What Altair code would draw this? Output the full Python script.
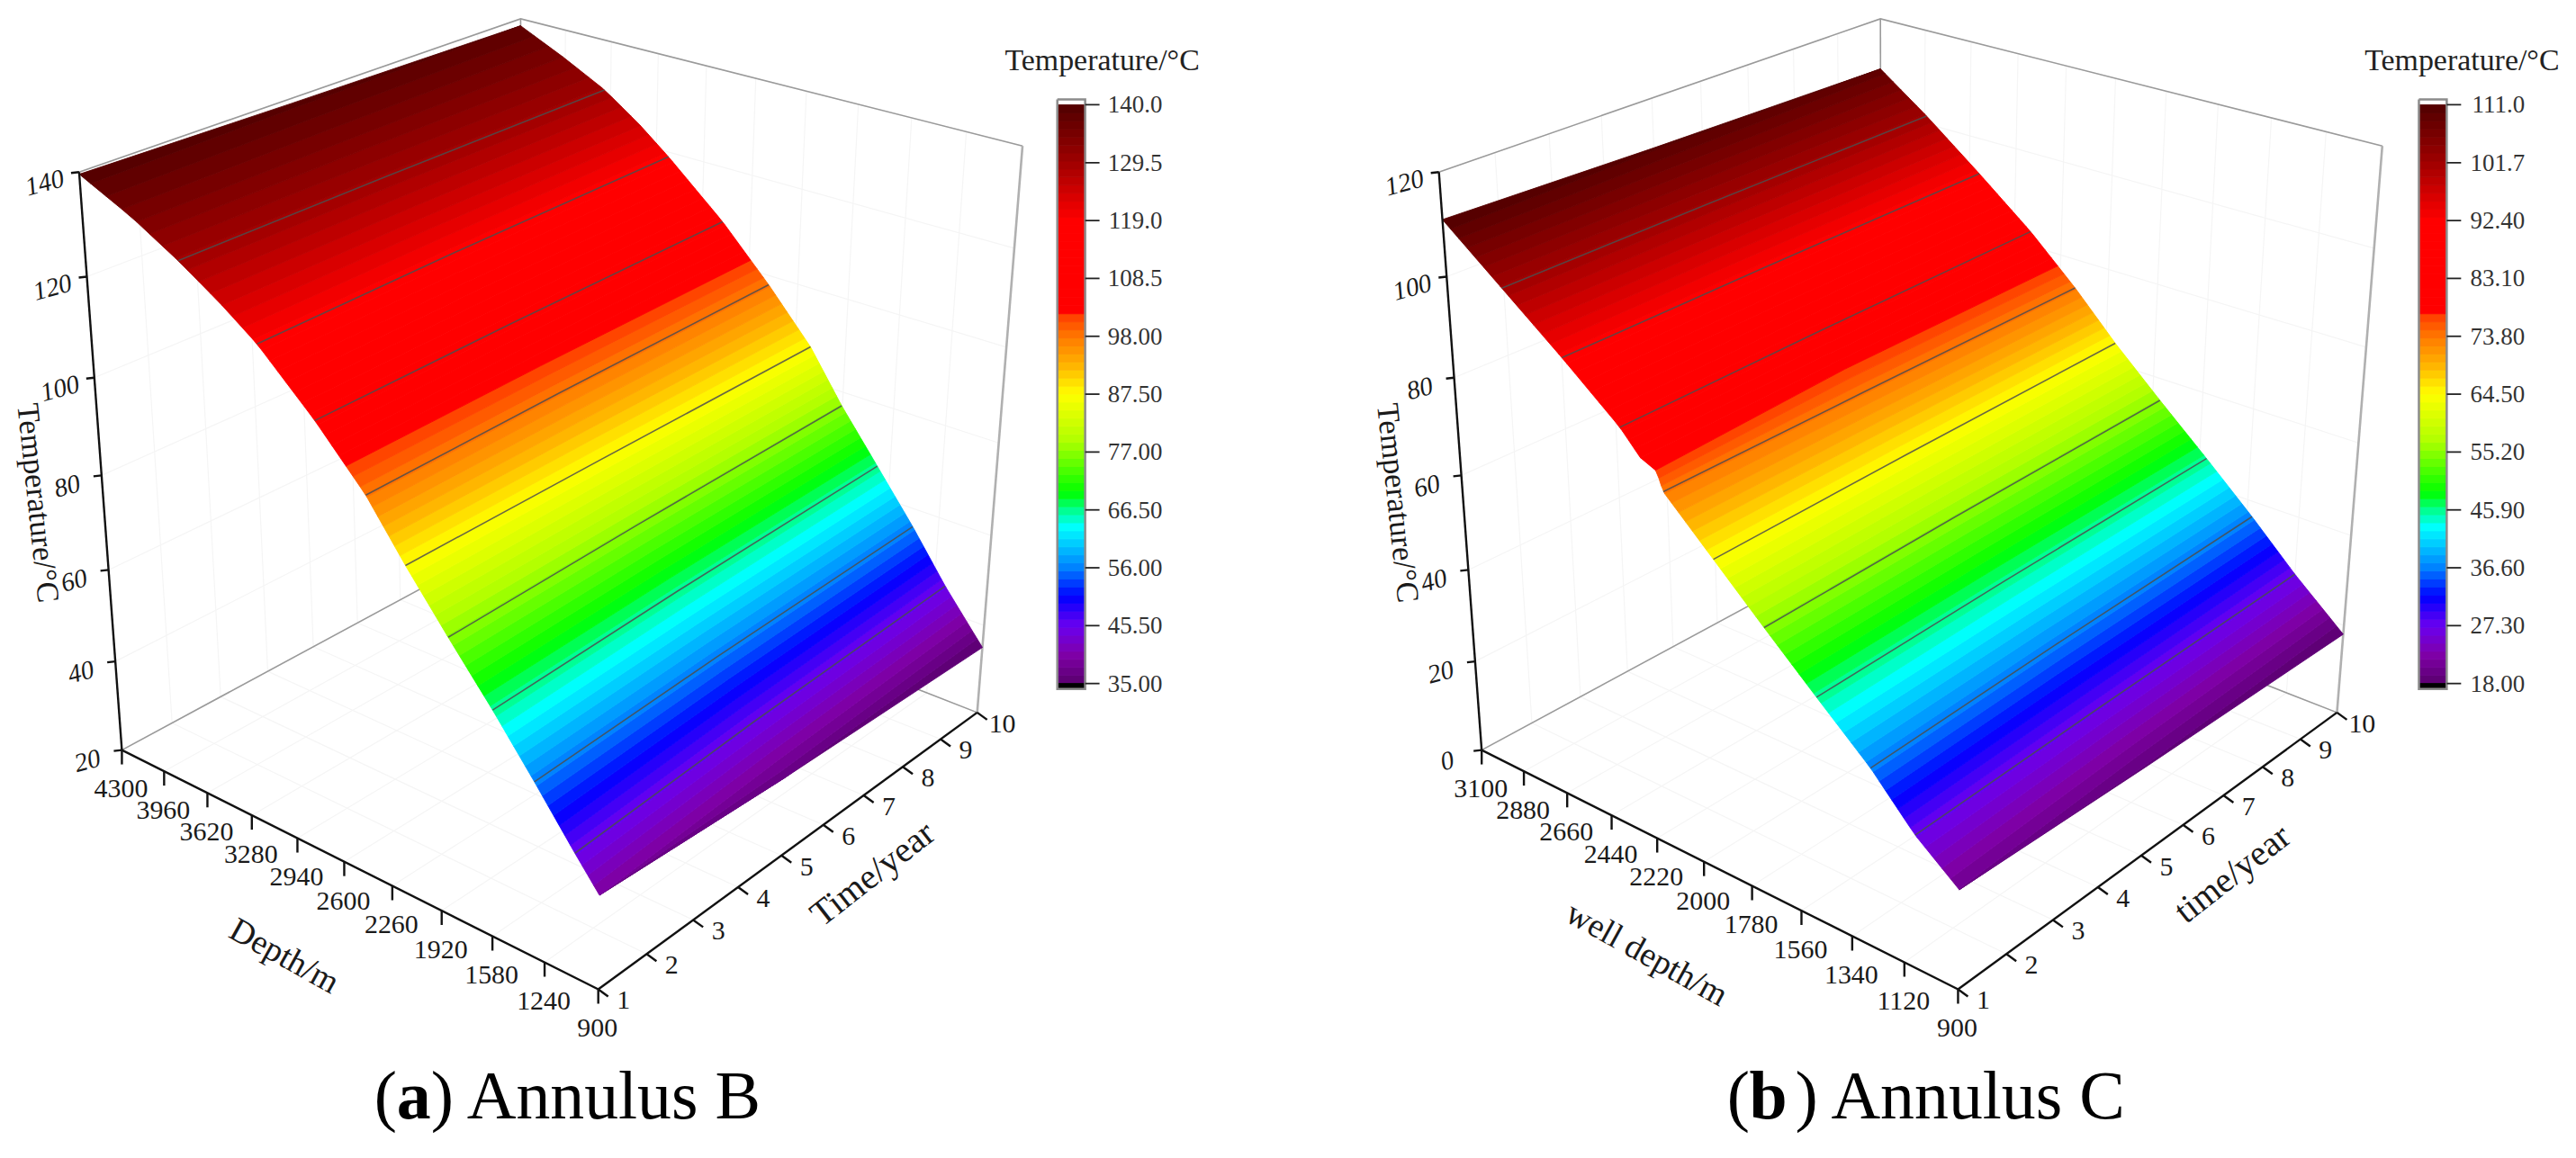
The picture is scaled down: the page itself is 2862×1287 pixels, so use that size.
import altair as alt
import numpy as np
import pandas as pd

# ---------------- values ----------------
TIME_TICKS = [1, 2, 3, 4, 5, 6, 7, 8, 9, 10]

A_DEPTH_TICKS = [4300, 3960, 3620, 3280, 2940, 2600, 2260, 1920, 1580, 1240, 900]
A_TEMP_TICKS = [20, 40, 60, 80, 100, 120, 140]
A_LEGEND = [140.0, 129.5, 119.0, 108.5, 98.0, 87.5, 77.0, 66.5, 56.0, 45.5, 35.0]
A_CONTOURS = [129.5, 119.0, 108.5, 98.0, 87.5, 77.0, 66.5, 56.0, 45.5]
A_TIMES = [1, 5, 10]
A_T = [
    [39.4, 45.5, 56.0, 66.5, 77.0, 87.5, 98.0, 108.5, 119.0, 124.2, 129.5, 134.7, 139.6],
    [36.9, 45.5, 56.0, 66.5, 77.0, 87.5, 98.0, 108.5, 119.0, 124.2, 129.5, 134.4, 139.0],
    [35.0, 45.5, 56.0, 66.5, 77.0, 87.5, 98.0, 108.5, 119.0, 124.2, 129.5, 134.0, 138.5],
]
A_D = [
    [900, 1053, 1306, 1568, 1848, 2118, 2369, 2696, 3073, 3319, 3605, 3925, 4300],
    [900, 1118, 1362, 1622, 1890, 2138, 2418, 2750, 3140, 3372, 3640, 3950, 4300],
    [900, 1169, 1407, 1665, 1925, 2155, 2459, 2795, 3191, 3408, 3665, 3965, 4300],
]

B_DEPTH_TICKS = [3100, 2880, 2660, 2440, 2220, 2000, 1780, 1560, 1340, 1120, 900]
B_TEMP_TICKS = [0, 20, 40, 60, 80, 100, 120]
B_LEGEND = [111.0, 101.7, 92.4, 83.1, 73.8, 64.5, 55.2, 45.9, 36.6, 27.3, 18.0]
B_CONTOURS = [101.7, 92.4, 83.1, 73.8, 64.5, 55.2, 45.9, 36.6, 27.3]
B_TIMES = [1, 5, 10]
B_T = [
    [20.5, 27.3, 36.6, 45.9, 55.2, 64.5, 73.8, 77.4, 77.6, 83.1, 92.4, 101.7, 111.0],
    [19.1, 27.3, 36.6, 45.9, 55.2, 64.5, 73.8, 83.1, 92.4, 101.7, 110.0],
    [18.0, 27.3, 36.6, 45.9, 55.2, 64.5, 73.8, 83.1, 92.4, 101.7, 109.2],
]
B_D = [
    [900, 1078, 1259, 1481, 1699, 1912, 2125, 2152, 2200, 2310, 2563, 2831, 3100],
    [900, 1100, 1291, 1507, 1725, 1937, 2138, 2340, 2590, 2853, 3100],
    [900, 1120, 1318, 1529, 1747, 1958, 2150, 2364, 2612, 2871, 3100],
]

# colour map stops: fraction of the colour bar -> colour
STOP_F = [0.0, 0.05, 0.10, 0.15, 0.20, 0.27, 0.30, 0.33, 0.42, 0.50, 0.55, 0.60, 0.635, 0.645, 0.80, 0.90, 1.0]
STOP_C = ["#5a006e", "#7f00a8", "#6a00f0", "#0000ff", "#0080ff", "#00ffff", "#00ff90", "#00ff00",
          "#b0ff00", "#ffff00", "#ffb400", "#ff7800", "#ff4000", "#ff0000", "#ff0000", "#a00000", "#500000"]

FONT = "Liberation Serif"
PANEL_W = [1423, 1431]
PANEL_H = 1262
BANDS = 72

# corners of the drawn box on the page (d: 0 shallow..1 deep, t: 0 first..1 last year, z: 0..1)
CUBE = [(0, 0, 0), (1, 0, 0), (1, 0, 1), (0, 1, 0), (0, 1, 1), (1, 1, 1), (0, 0, 1), (1, 1, 0)]
SCREEN = [(666, 1101), (136, 834), (88, 190), (1089, 792), (1139, 161), (580, 19), (676, 386), (581, 594)]


def colour(f):
    rgb = [[int(c[i:i + 2], 16) for i in (1, 3, 5)] for c in STOP_C]
    vals = [int(round(np.interp(f, STOP_F, [r[k] for r in rgb]))) for k in range(3)]
    return "#%02x%02x%02x" % tuple(vals)


def camera(dx):
    rows, rhs = [], []
    for (X, Y, Z), (u, v) in zip(CUBE, SCREEN):
        u = u + dx
        rows.append([X, Y, Z, 1, 0, 0, 0, 0, -u * X, -u * Y, -u * Z]); rhs.append(u)
        rows.append([0, 0, 0, 0, X, Y, Z, 1, -v * X, -v * Y, -v * Z]); rhs.append(v)
    p = np.linalg.lstsq(np.array(rows, float), np.array(rhs, float), rcond=None)[0]
    return np.append(p, 1.0).reshape(3, 4)


def line(coords, **props):
    return {"type": "Feature", "properties": props,
            "geometry": {"type": "LineString", "coordinates": [list(map(float, c)) for c in coords]}}


def poly(coords, **props):
    ring = [list(map(float, c)) for c in coords]
    ring.append(ring[0])
    return {"type": "Feature", "properties": props,
            "geometry": {"type": "Polygon", "coordinates": [ring]}}


PROJ = dict(type="identity", scale=1, translate=[-8, -8])


def panel(index, dx, bar_x, label_right, title_x, times, T, D, depth_ticks, temp_ticks, legend_vals, contours,
          depth_title, time_title, cap_left, cap_letter, cap_rest, cap_text):
    P = camera(dx)
    dmin, dmax = min(depth_ticks), max(depth_ticks)
    zmin, zmax = min(temp_ticks), max(temp_ticks)
    tmin, tmax = min(TIME_TICKS), max(TIME_TICKS)

    def pr(depth, time, temp):
        v = P @ np.array([(depth - dmin) / (dmax - dmin), (time - tmin) / (tmax - tmin),
                          (temp - zmin) / (zmax - zmin), 1.0])
        return (v[0] / v[2], v[1] / v[2])

    lo_t, hi_t = min(legend_vals), max(legend_vals)

    def frac(temp):
        return (temp - lo_t) / (hi_t - lo_t)

    def geo_lines(features, color, width, opacity=1.0):
        return alt.Chart(alt.InlineData(values=features)).mark_geoshape(
            filled=False, stroke=color, strokeWidth=width, strokeOpacity=opacity).project(**PROJ)

    # ---- walls' faint grid
    grid = []
    for d in depth_ticks:
        grid.append(line([pr(d, tmax, zmin), pr(d, tmax, zmax)]))
        grid.append(line([pr(d, tmin, zmin), pr(d, tmax, zmin)]))
    for t in TIME_TICKS:
        grid.append(line([pr(dmax, t, zmin), pr(dmax, t, zmax)]))
        grid.append(line([pr(dmin, t, zmin), pr(dmax, t, zmin)]))
    for z in temp_ticks:
        grid.append(line([pr(dmax, tmin, z), pr(dmax, tmax, z)]))
        grid.append(line([pr(dmin, tmax, z), pr(dmax, tmax, z)]))

    # ---- gray box
    box = [line([pr(dmax, tmin, zmax), pr(dmax, tmax, zmax), pr(dmin, tmax, zmax)]),
           line([pr(dmax, tmax, zmax), pr(dmax, tmax, zmin)]),
           line([pr(dmax, tmin, zmin), pr(dmax, tmax, zmin), pr(dmin, tmax, zmin)])]
    right_edge = [line([pr(dmin, tmax, zmax), pr(dmin, tmax, zmin)])]

    # ---- surface, cut into colour bands between isotherms
    def vertex(level, c):
        tc = np.array(T[c], float)
        temp = float(np.clip(level, tc[0], tc[-1]))
        return pr(float(np.interp(temp, tc, D[c])), times[c], temp)

    edges = np.linspace(lo_t, hi_t, BANDS + 1)
    bands = []
    for lo, hi in zip(edges[:-1], edges[1:]):
        if hi <= min(col[0] for col in T) or lo >= max(col[-1] for col in T):
            continue
        upper = [vertex(hi, c) for c in range(len(times))]
        lower = [vertex(lo, c) for c in reversed(range(len(times)))]
        bands.append(poly(upper + lower, temp=(lo + hi) / 2, fill=colour(frac((lo + hi) / 2))))

    contour_lines = []
    for level in contours:
        contour_lines.append(line([vertex(level, c) for c in range(len(times))]))

    # ---- black axes and ticks
    axes = [line([pr(dmax, tmin, zmin), pr(dmax, tmin, zmax)]),
            line([pr(dmax, tmin, zmin), pr(dmin, tmin, zmin)]),
            line([pr(dmin, tmin, zmin), pr(dmin, tmax, zmin)])]
    for z in temp_ticks:
        x, y = pr(dmax, tmin, z)
        axes.append(line([(x, y), (x - 9, y + 1)]))
    for d in depth_ticks:
        x, y = pr(d, tmin, zmin)
        axes.append(line([(x, y), (x, y + 16)]))
    for t in TIME_TICKS:
        x, y = pr(dmin, t, zmin)
        axes.append(line([(x, y), (x + 11, y + 8)]))

    # ---- colour bar
    bar_w = 31
    top, bottom = 115.0, 760.0
    bar_fill = []
    for i in range(BANDS):
        y0 = bottom - (bottom - top) * i / BANDS
        y1 = bottom - (bottom - top) * (i + 1) / BANDS
        bar_fill.append(poly([(bar_x, y0), (bar_x + bar_w, y0), (bar_x + bar_w, y1), (bar_x, y1)],
                             temp=lo_t + (hi_t - lo_t) * (i + 0.5) / BANDS, fill=colour((i + 0.5) / BANDS)))
    under = [poly([(bar_x, bottom), (bar_x + bar_w, bottom), (bar_x + bar_w, bottom + 6), (bar_x, bottom + 6)])]
    frame = [line([(bar_x, top - 6), (bar_x + bar_w, top - 6), (bar_x + bar_w, bottom + 6),
                   (bar_x, bottom + 6), (bar_x, top - 6)])]
    bar_ticks, legend_rows = [], []
    for v in legend_vals:
        y = bottom - (bottom - top) * (v - lo_t) / (hi_t - lo_t)
        bar_ticks.append(line([(bar_x + bar_w, y), (bar_x + bar_w + 16, y)]))
        legend_rows.append({"x": label_right, "y": y + 9, "label": format(v, "#.4g")})

    def fill_chart(features):
        return alt.Chart(alt.InlineData(values=features)).mark_geoshape(strokeWidth=0.9).encode(
            color=alt.Color(field="properties.fill", type="nominal", scale=None, legend=None),
            stroke=alt.Stroke(field="properties.fill", type="nominal", scale=None, legend=None),
        ).project(**PROJ)

    def texts(rows, size, angle=0, align="center", style="normal", weight="normal", color="#1a1a1a"):
        return alt.Chart(pd.DataFrame(rows)).mark_text(
            font=FONT, fontSize=size, angle=angle, align=align, baseline="alphabetic",
            fontStyle=style, fontWeight=weight, color=color,
        ).encode(longitude=alt.Longitude("x:Q"), latitude=alt.Latitude("y:Q"),
                 text=alt.Text("label:N")).project(**PROJ)

    z_rows = [{"x": pr(dmax, tmin, z)[0] - 36, "y": pr(dmax, tmin, z)[1] + 21, "label": str(z)} for z in temp_ticks]
    d_rows = [{"x": pr(d, tmin, zmin)[0] - 1, "y": pr(d, tmin, zmin)[1] + 53, "label": str(d)} for d in depth_ticks]
    t_rows = [{"x": pr(dmin, t, zmin)[0] + 28, "y": pr(dmin, t, zmin)[1] + 22, "label": str(t)} for t in TIME_TICKS]

    layers = [
        geo_lines(grid, "#f5f5f5", 1.2),
        geo_lines(box, "#9a9a9a", 1.6),
        geo_lines(right_edge, "#b0b0b0", 2.6),
        fill_chart(bands),
        geo_lines(contour_lines, "#4d4d4d", 1.6, 0.85),
        geo_lines(axes, "#111111", 2.4),
        texts(z_rows, 29, angle=345, style="italic"),
        texts(d_rows, 30),
        texts(t_rows, 30),
        texts([{"x": 31 + dx, "y": 560, "label": "Temperature/°C"}], 35, angle=84),
        texts([{"x": depth_title[0], "y": depth_title[1], "label": depth_title[2]}], 38, angle=29),
        texts([{"x": time_title[0], "y": time_title[1], "label": time_title[2]}], 40, angle=322),
        fill_chart(bar_fill),
        alt.Chart(alt.InlineData(values=under)).mark_geoshape(fill="#000000", stroke="#000000").project(**PROJ),
        geo_lines(frame, "#8c8c8c", 2.5),
        geo_lines(bar_ticks, "#222222", 1.8),
        texts(legend_rows, 27, align="right", color="#333333"),
        texts([{"x": title_x, "y": 76, "label": "Temperature/°C"}], 34, color="#222222"),
        texts([{"x": cap_left, "y": 1245, "label": "("}], 76, align="left", color="#000000"),
        texts([{"x": cap_left + 25, "y": 1245, "label": cap_letter}], 76, align="left", weight="bold", color="#000000"),
        texts([{"x": cap_rest, "y": 1245, "label": cap_text}], 76, align="left", color="#000000"),
    ]
    return alt.layer(*layers).properties(width=PANEL_W[index], height=PANEL_H)


OFF = PANEL_W[0]   # the second panel's coordinates are counted from its own left edge
left = panel(0, 0, 1178, 1295, 1228, A_TIMES, A_T, A_D, A_DEPTH_TICKS, A_TEMP_TICKS, A_LEGEND, A_CONTOURS,
             (311, 1074, "Depth/m"), (980, 982, "Time/year"), 417, "a", 480, ") Annulus B")
right = panel(1, 1515 - OFF, 2695 - OFF, 2813 - OFF, 2743 - OFF, B_TIMES, B_T, B_D, B_DEPTH_TICKS, B_TEMP_TICKS,
              B_LEGEND, B_CONTOURS, (1829 - OFF, 1072, "well depth/m"), (2495 - OFF, 982, "time/year"),
              1924 - OFF, "b", 2000 - OFF, ") Annulus C")

chart = alt.hconcat(left, right, spacing=0, bounds="flush").properties(padding=0).configure_view(stroke=None)
chart.save("out.html", embed_options={"renderer": "svg", "actions": False})
